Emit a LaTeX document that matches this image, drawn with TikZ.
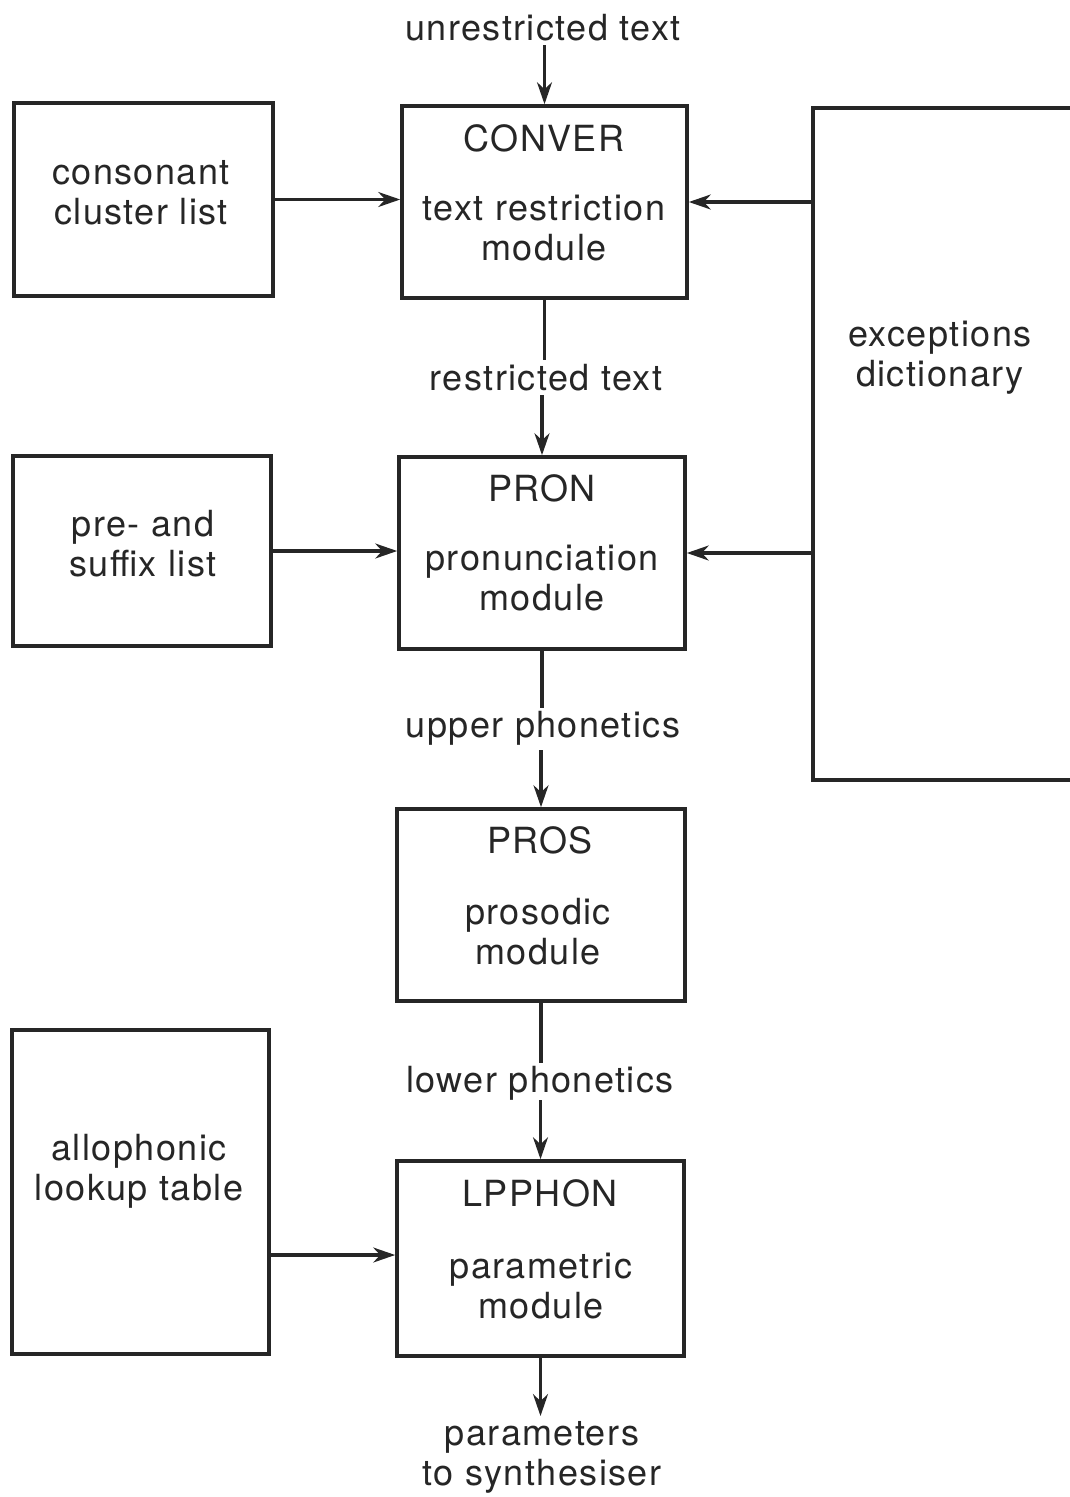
\documentclass[tikz,border=0pt]{standalone}
\usepackage{fontspec}
\setmainfont{TeX Gyre Heros}[LetterSpace=4]
\usetikzlibrary{arrows.meta,calc}
\begin{document}
\begin{tikzpicture}[x=1pt,y=-1pt,
  box/.style={draw=black!85,line width=3.6pt,inner sep=0pt},
  lbl/.style={inner sep=0pt,align=center,text=black!85,font=\fontsize{36}{40}\selectfont},
  conn/.style={draw=black!85,line width=3.2pt},
  arr/.style={conn,-{Stealth[length=22pt,width=15pt]}}]
\useasboundingbox (0,0) rectangle (1069,1497);
% boxes
\node[box,minimum width=259pt,minimum height=193pt] (cons) at (143.5,199.5) {};
\node[box,minimum width=285pt,minimum height=192pt] (conver) at (544.5,202) {};
\node[box,minimum width=258pt,minimum height=190pt] (presuf) at (142,551) {};
\node[box,minimum width=286pt,minimum height=192pt] (pron) at (542,553) {};
\node[box,minimum width=288pt,minimum height=192pt] (pros) at (541,905) {};
\node[box,minimum width=257pt,minimum height=324pt] (allo) at (140.5,1192) {};
\node[box,minimum width=287pt,minimum height=195pt] (lpphon) at (540.5,1258.5) {};
\node[inner sep=0pt,minimum width=262pt,minimum height=672pt] (exc) at (944,444) {};
\draw[draw=black!85,line width=3.6pt] (exc.north east) -- (exc.north west) -- (exc.south west) -- (exc.south east);
% texts
\node[lbl] (t1) at (543,28) {unrestricted text};
\node[lbl] (t2) at (544,138) {CONVER};
\node[lbl] (t3) at (544,228) {text restriction\\module};
\node[lbl] (t4) at (141,193) {consonant\\cluster list};
\node[lbl] (t5) at (940,358) {exceptions\\dictionary};
\node[lbl] (t6) at (546,378) {restricted text};
\node[lbl] (t7) at (542,488) {PRON};
\node[lbl] (t8) at (542,578) {pronunciation\\module};
\node[lbl] (t9) at (143,544) {pre- and\\suffix list};
\node[lbl] (t10) at (543,728) {upper phonetics};
\node[lbl] (t11) at (540,840) {PROS};
\node[lbl] (t12) at (538,932) {prosodic\\module};
\node[lbl] (t13) at (540,1083) {lower phonetics};
\node[lbl] (t14) at (540,1193) {LPPHON};
\node[lbl] (t15) at (541,1286) {parametric\\module};
\node[lbl] (t16) at (139,1171) {allophonic\\lookup table};
\node[lbl] (t17) at (542,1457) {parameters\\to synthesiser};
% free ends of the connectors
\coordinate (c1) at (conver.north |- 0,45);
\coordinate (r1) at (conver.south |- 0,360);
\coordinate (r2) at (pron.north |- 0,395);
\coordinate (u1) at (pron.south |- 0,708);
\coordinate (u2) at (pros.north |- 0,750);
\coordinate (l1) at (pros.south |- 0,1063);
\coordinate (l2) at (lpphon.north |- 0,1100);
\coordinate (o1) at (lpphon.south |- 0,1416);
\coordinate (c3) at (allo.east |- 0,1255);
% connectors
\draw[arr] (c1) -- (conver.north);
\draw[arr] (cons.east) -- (cons.east -| conver.west);
\draw[arr] (conver.east -| exc.west) -- (conver.east);
\draw[conn] (conver.south) -- (r1);
\draw[arr] (r2) -- (pron.north);
\draw[arr] (presuf.east) -- (presuf.east -| pron.west);
\draw[arr] (pron.east -| exc.west) -- (pron.east);
\draw[conn] (pron.south) -- (u1);
\draw[arr] (u2) -- (pros.north);
\draw[conn] (pros.south) -- (l1);
\draw[arr] (l2) -- (lpphon.north);
\draw[arr] (c3) -- (c3 -| lpphon.west);
\draw[arr] (lpphon.south) -- (o1);
\end{tikzpicture}
\end{document}
